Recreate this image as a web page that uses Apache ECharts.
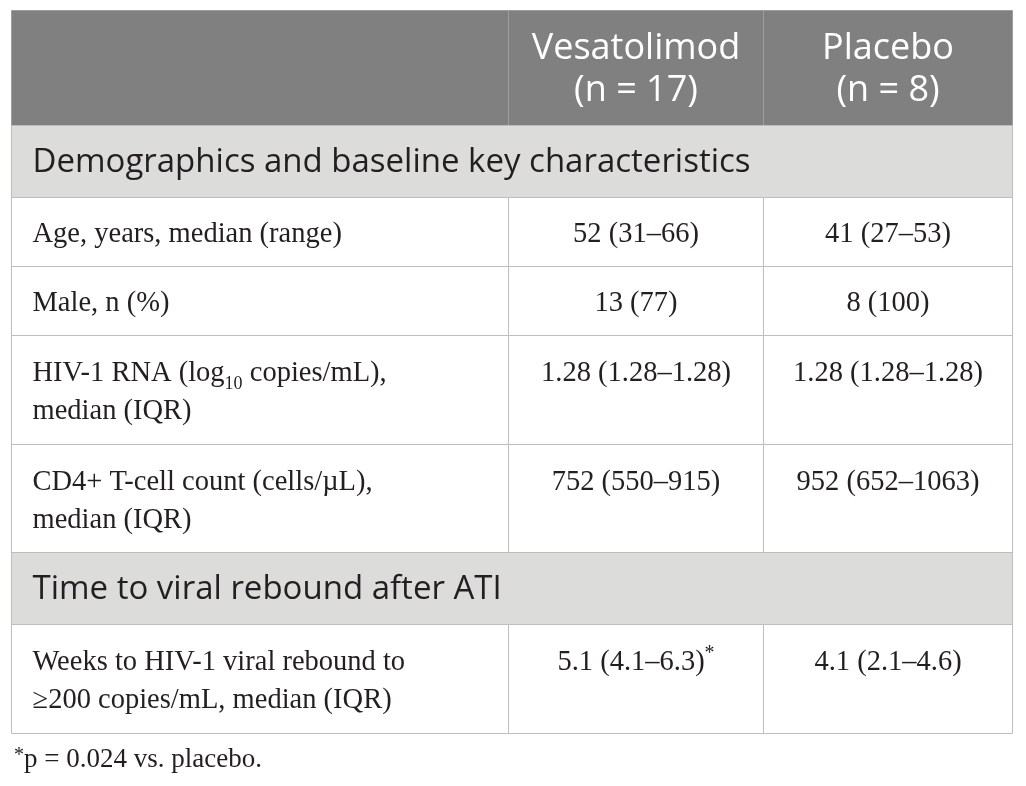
<!DOCTYPE html>
<html lang="en">
<head>
    <meta charset="UTF-8">
    <title>Vesatolimod vs placebo</title>
    <script src="https://cdn.jsdelivr.net/npm/echarts@6/dist/echarts.min.js"></script>
    <style>
        html, body { margin: 0; padding: 0; background: #fff; }
        #tableChart { width: 1026px; height: 786px; }
    </style>
</head>
<body>
<div id="tableChart"></div>
<script type="text/javascript">
    // table content
    var groupNames = ['Vesatolimod', 'Placebo'];
    var groupN = [17, 8];
    var sectionTitles = ['Demographics and baseline key characteristics', 'Time to viral rebound after ATI'];
    var rowLabels = [
        'Age, years, median (range)',
        'Male, n (%)',
        'HIV-1 RNA (log{sub|10} copies/mL),\nmedian (IQR)',
        'CD4+ T-cell count (cells/\u00b5L),\nmedian (IQR)',
        'Weeks to HIV-1 viral rebound to\n\u2265200 copies/mL, median (IQR)'
    ];
    var rowSection = [0, 0, 0, 0, 1];
    var vesatolimodValues = ['52 (31\u201366)', '13 (77)', '1.28 (1.28\u20131.28)', '752 (550\u2013915)', '5.1 (4.1\u20136.3){sup|*}'];
    var placeboValues = ['41 (27\u201353)', '8 (100)', '1.28 (1.28\u20131.28)', '952 (652\u20131063)', '4.1 (2.1\u20134.6)'];
    var footnote = '{sup|*}p = 0.024 vs. placebo.';

    // layout (table units = px)
    var colEdges = [0, 497, 752, 1001];
    var headerH = 115, sectionH = 72, lineH = 39.5, rowPad = 29.5;
    var tableW = colEdges[colEdges.length - 1];

    var cells = [];
    var y = 0;
    // header row
    cells.push({x0: 0, x1: colEdges[1], y0: y, y1: y + headerH, kind: 'head', text: ''});
    for (var g = 0; g < groupNames.length; g++) {
        cells.push({x0: colEdges[g + 1], x1: colEdges[g + 2], y0: y, y1: y + headerH, kind: 'head',
            text: groupNames[g] + '\n(n = ' + groupN[g] + ')'});
    }
    y += headerH;
    var lastSection = -1;
    for (var i = 0; i < rowLabels.length; i++) {
        if (rowSection[i] !== lastSection) {
            lastSection = rowSection[i];
            cells.push({x0: 0, x1: tableW, y0: y, y1: y + sectionH, kind: 'section', text: sectionTitles[lastSection]});
            y += sectionH;
        }
        var lines = rowLabels[i].split('\n').length;
        var h = rowPad + lineH * lines;
        cells.push({x0: 0, x1: colEdges[1], y0: y, y1: y + h, kind: 'label', text: rowLabels[i], lines: lines});
        cells.push({x0: colEdges[1], x1: colEdges[2], y0: y, y1: y + h, kind: 'value', text: vesatolimodValues[i], lines: lines});
        cells.push({x0: colEdges[2], x1: colEdges[3], y0: y, y1: y + h, kind: 'value', text: placeboValues[i], lines: lines});
        y += h;
    }
    var tableH = y;

    var serifFont = '"Liberation Serif", "Times New Roman", serif';
    var sansFont = '"Open Sans", "Noto Sans", sans-serif';
    var richSerif = {
        sub: {fontSize: 18, fontFamily: serifFont, color: '#231f20', lineHeight: 22, verticalAlign: 'bottom'},
        sup: {fontSize: 20, fontFamily: serifFont, color: '#231f20', lineHeight: 24, verticalAlign: 'top'}
    };

    function renderCell(params, api) {
        var c = cells[api.value(4)];
        var a = api.coord([api.value(0), api.value(2)]);
        var b = api.coord([api.value(1), api.value(3)]);
        var x0 = Math.round(a[0]) + 0.5, y0 = Math.round(a[1]) + 0.5;
        var x1 = Math.round(b[0]) + 0.5, y1 = Math.round(b[1]) + 0.5;
        var fill = c.kind === 'head' ? '#808080' : (c.kind === 'section' ? '#dcdcdb' : '#ffffff');
        var stroke = c.kind === 'head' ? '#9d9d9d' : '#bdbdbd';
        var children = [{
            type: 'rect',
            shape: {x: x0, y: y0, width: x1 - x0, height: y1 - y0},
            style: {fill: fill, stroke: stroke, lineWidth: 1}
        }];
        var mid = (y0 + y1) / 2;
        var textStyle;
        if (c.kind === 'head') {
            textStyle = {text: c.text, x: (x0 + x1) / 2, y: mid + 2, align: 'center', verticalAlign: 'middle',
                fontFamily: sansFont, fontSize: 36, lineHeight: 42, fill: '#ffffff'};
        } else if (c.kind === 'section') {
            textStyle = {text: c.text, x: x0 + 21, y: mid + 1, align: 'left', verticalAlign: 'middle',
                fontFamily: sansFont, fontSize: 33, fill: '#231f20'};
        } else if (c.kind === 'label') {
            textStyle = {text: c.text, x: x0 + 21, y: mid + 3, align: 'left', verticalAlign: 'middle',
                fontFamily: serifFont, fontSize: 28.5, lineHeight: 38, fill: '#231f20', rich: richSerif};
        } else {
            textStyle = {text: c.text, x: (x0 + x1) / 2, y: mid + 3 - (c.lines - 1) * 19, align: 'center', verticalAlign: 'middle',
                fontFamily: serifFont, fontSize: 28.5, lineHeight: 38, fill: '#231f20', rich: richSerif};
        }
        if (c.text) {
            children.push({type: 'text', style: textStyle});
        }
        return {type: 'group', children: children};
    }

    var myChart = echarts.init(document.getElementById('tableChart'));
    var option = {
        animation: false,
        title: {
            text: footnote,
            left: 9,
            top: 741,
            textStyle: {fontFamily: serifFont, fontSize: 27, fontWeight: 'normal', color: '#231f20', rich: richSerif}
        },
        grid: {left: 11, top: 10, width: tableW, height: tableH},
        xAxis: {type: 'value', min: 0, max: tableW, show: false},
        yAxis: {type: 'value', min: 0, max: tableH, inverse: true, show: false},
        series: [{
            type: 'custom',
            silent: true,
            clip: false,
            renderItem: renderCell,
            data: cells.map(function (c, idx) { return [c.x0, c.x1, c.y0, c.y1, idx]; })
        }]
    };
    myChart.setOption(option);
</script>
</body>
</html>
